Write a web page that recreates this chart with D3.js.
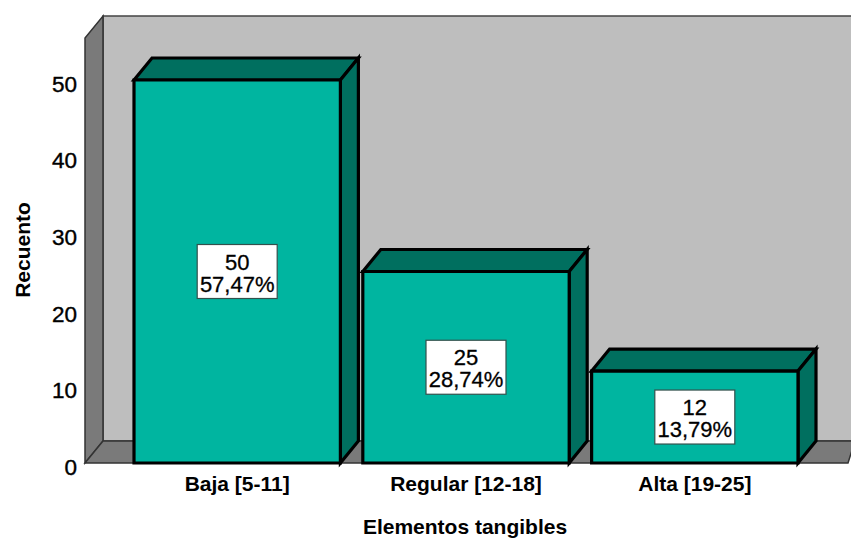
<!DOCTYPE html>
<html>
<head>
<meta charset="utf-8">
<title>Elementos tangibles</title>
<script src="https://cdn.jsdelivr.net/npm/d3@7"></script>
<style>
    html, body { margin: 0; padding: 0; background: #fff; }
    svg { display: block; }
    text { font-family: "Liberation Sans", Arial, sans-serif; fill: #000; }
</style>
</head>
<body>
<script>
// Data
var categories = ["Baja [5-11]", "Regular [12-18]", "Alta [19-25]"];
var counts = [50, 25, 12];
var percents = ["57,47%", "28,74%", "13,79%"];
var yTicks = [0, 10, 20, 30, 40, 50];

var width = 851;
var height = 540;

// Offset of the 3D extrusion
var depthX = 18;
var depthY = 22;

var svg = d3.select("body").append("svg")
    .attr("width", width)
    .attr("height", height);

var y = d3.scaleLinear().domain([0, 50]).range([463, 80]);
var x = d3.scaleBand().domain(categories).range([134, 798]).paddingInner(0.098);

var line = d3.line();
var yMax = y.invert(38);

function poly(points, fill, stroke, sw) {
    return svg.append("path")
        .attr("d", line(points) + "Z")
        .attr("fill", fill)
        .attr("stroke", stroke)
        .attr("stroke-width", sw)
        .attr("stroke-linejoin", "miter");
}

// Back wall, left wall and floor
var left = 85;
var right = 848;
poly([[left + depthX, y(yMax) - depthY], [width + 4, y(yMax) - depthY], [width + 4, y(0) - depthY], [left + depthX, y(0) - depthY]], "#bebebe", "#444", 1.5);
poly([[left, y(0)], [left, y(yMax)], [left + depthX, y(yMax) - depthY], [left + depthX, y(0) - depthY]], "#7a7a7a", "#333", 1.5);
poly([[left, y(0)], [left + depthX, y(0) - depthY], [width + 4, y(0) - depthY], [right, y(0)]], "#7a7a7a", "#333", 1.5);

// Bars
categories.forEach(function(c, i) {
    var x0 = x(c);
    var x1 = x0 + x.bandwidth();
    var yTop = y(counts[i]);
    var yBase = y(0);

    poly([[x0, yTop], [x0 + depthX, yTop - depthY], [x1 + depthX, yTop - depthY], [x1, yTop]], "#006f5f", "#000", 3.2);
    poly([[x1, yTop], [x1 + depthX, yTop - depthY], [x1 + depthX, yBase - depthY], [x1, yBase]], "#006f5f", "#000", 3.2);
    poly([[x0, yTop], [x1, yTop], [x1, yBase], [x0, yBase]], "#00b5a0", "#000", 3.2);

    // Count and percentage box in the middle of the bar
    var cx = (x0 + x1) / 2;
    var cy = (yTop + yBase) / 2;
    svg.append("rect")
        .attr("x", cx - 40)
        .attr("y", cy - 27)
        .attr("width", 80)
        .attr("height", 54)
        .attr("fill", "#fff")
        .attr("stroke", "#33504c")
        .attr("stroke-width", 1.2);
    var label = svg.append("text")
        .attr("x", cx)
        .attr("y", cy - 2)
        .attr("text-anchor", "middle")
        .attr("font-size", 22)
        .attr("stroke", "#000")
        .attr("stroke-width", 0.3);
    label.append("tspan")
        .attr("x", cx)
        .text(counts[i]);
    label.append("tspan")
        .attr("x", cx)
        .attr("dy", 22)
        .text(percents[i]);
});

// Y axis
var yAxis = svg.append("g")
    .attr("transform", "translate(85,4)")
    .call(d3.axisLeft(y).tickValues(yTicks).tickSize(0).tickPadding(8));
yAxis.select(".domain").remove();
yAxis.selectAll("text")
    .attr("font-size", 22.5)
    .attr("font-family", "Liberation Sans")
    .attr("stroke", "#000")
    .attr("stroke-width", 0.4);

// X axis
var xAxis = svg.append("g")
    .attr("transform", "translate(0," + y(0) + ")")
    .call(d3.axisBottom(x).tickSize(0).tickPadding(13));
xAxis.select(".domain").remove();
xAxis.selectAll("text")
    .attr("font-size", 21)
    .attr("font-family", "Liberation Sans")
    .attr("font-weight", "bold");

// Axis titles
svg.append("text")
    .attr("x", 465)
    .attr("y", 534)
    .attr("text-anchor", "middle")
    .attr("font-size", 21)
    .attr("font-weight", "bold")
    .text("Elementos tangibles");

svg.append("text")
    .attr("transform", "translate(30,250) rotate(-90)")
    .attr("text-anchor", "middle")
    .attr("font-size", 21)
    .attr("font-weight", "bold")
    .text("Recuento");
</script>
</body>
</html>
